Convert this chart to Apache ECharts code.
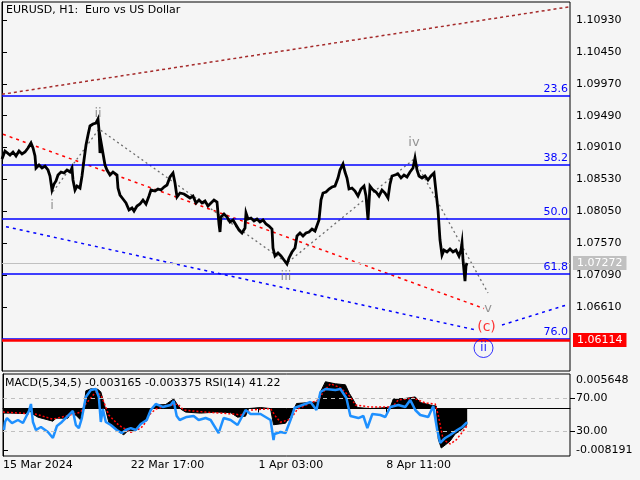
<!DOCTYPE html>
<html><head><meta charset="utf-8">
<script src="https://cdn.jsdelivr.net/npm/echarts@6/dist/echarts.min.js"></script>
<style>html,body{margin:0;padding:0;background:#f5f5f5;}#c{width:640px;height:480px;}</style>
</head><body><div id="c"></div>
<script>
const FONT = 'DejaVu Sans';
const chartTitle = 'EURUSD, H1:  Euro vs US Dollar';
const subTitle = 'MACD(5,34,5) -0.003165 -0.003375 RSI(14) 41.22';
const priceTicks = [1.06610,1.07090,1.07570,1.08050,1.08530,1.09010,1.09490,1.09970,1.10450,1.10930];
const timeTickBars = [0,128,256,384];
const timeTickLabels = ['15 Mar 2024','22 Mar 17:00','1 Apr 03:00','8 Apr 11:00'];

const priceBars = [0,3,5,8,11,14,17,20,23,26,29,31,33,34,37,40,43,46,48,50,52,54,56,59,62,65,68,70,71,73,75,78,80,82,84,86,88,91,94,96,97,98,99,101,103,105,108,111,113,115,116,118,121,124,127,130,132,135,138,141,144,147,149,153,156,159,162,165,168,171,173,175,178,182,185,188,191,194,197,200,203,206,209,212,215,216,217,218,219,222,225,228,231,234,237,240,243,244,246,249,252,255,258,261,264,267,270,271,273,276,279,282,285,287,290,293,295,298,301,304,307,310,313,315,317,319,321,324,327,330,333,336,338,341,343,345,347,350,353,356,359,362,364,366,368,371,374,377,380,383,386,388,390,393,396,399,402,405,408,411,413,415,417,420,423,426,429,432,434,436,438,440,442,445,448,451,454,457,459,460,461,463,464,465];
const priceClose = [1.08838,1.08958,1.08988,1.08898,1.08943,1.08883,1.08958,1.08913,1.08943,1.09003,1.09079,1.09003,1.08883,1.08702,1.08747,1.08702,1.08732,1.08672,1.08582,1.08371,1.08461,1.08507,1.08597,1.08642,1.08627,1.08672,1.08642,1.08702,1.08522,1.08371,1.08431,1.08401,1.08582,1.08823,1.09049,1.09199,1.09335,1.09365,1.09380,1.09440,1.09274,1.08928,1.09094,1.09124,1.08747,1.08672,1.08597,1.08642,1.08657,1.08597,1.08401,1.08296,1.08236,1.08176,1.08070,1.08100,1.08055,1.08130,1.08160,1.08221,1.08160,1.08281,1.08371,1.08356,1.08386,1.08371,1.08416,1.08446,1.08567,1.08627,1.08477,1.08266,1.08326,1.08311,1.08281,1.08251,1.08281,1.08176,1.08221,1.08176,1.08206,1.08130,1.08176,1.08221,1.08191,1.08025,1.07859,1.07739,1.07965,1.08010,1.07965,1.07890,1.07920,1.07844,1.07769,1.07724,1.07799,1.08025,1.07935,1.07950,1.07905,1.07935,1.07890,1.07920,1.07859,1.07829,1.07784,1.07498,1.07378,1.07423,1.07378,1.07318,1.07257,1.07348,1.07438,1.07498,1.07679,1.07724,1.07679,1.07724,1.07739,1.07784,1.07754,1.07724,1.07920,1.08221,1.08326,1.08341,1.08386,1.08416,1.08431,1.08552,1.08672,1.08763,1.08642,1.08552,1.08386,1.08401,1.08356,1.08281,1.08386,1.08431,1.08281,1.07920,1.08431,1.08371,1.08341,1.08281,1.08371,1.08326,1.08251,1.08461,1.08582,1.08597,1.08612,1.08552,1.08597,1.08567,1.08642,1.08702,1.08853,1.08672,1.08582,1.08552,1.08582,1.08522,1.08582,1.08627,1.08642,1.08070,1.07619,1.07393,1.07468,1.07438,1.07483,1.07438,1.07468,1.07378,1.07468,1.07573,1.07318,1.07001,1.07227,1.07272];

const fibLevels = [1.09786,1.08758,1.07945,1.07117,1.06139];
const fibLabels = ['23.6','38.2','50.0','61.8','76.0'];
const currentPrice = 1.07272;
const targetPrice = 1.06114;

const upperChannelBars = [0,568];
const upperChannelPrices = [1.09812,1.11130];
const redTrendBars = [1,482];
const redTrendPrices = [1.09210,1.06588];
const blueTrendBarsA = [4,474];
const blueTrendPricesA = [1.07819,1.06264];
const blueTrendBarsB = [500,566];
const blueTrendPricesB = [1.06339,1.06648];
const wavePathBars = [51,97,285,412,486];
const wavePathPrices = [1.08346,1.09289,1.07272,1.08838,1.06821];

const waveText = ['i','ii','iii','iv','v'];
const waveBars = [50,96,284,412,486];
const wavePrices = [1.08130,1.09515,1.07062,1.09079,1.06580];
const cLabelBar = 484.5, cLabelPrice = 1.06302;
const circleBar = 481.5, circlePrice = 1.05993;

const macdBars = [0,8,23,26,28,30,35,50,53,65,68,73,78,81,83,88,95,98,100,103,106,113,121,125,133,138,145,149,153,163,171,175,178,183,198,213,228,235,243,246,258,268,271,283,290,294,308,316,318,323,333,343,347,351,355,368,378,388,391,403,413,418,428,434,436,439,443,448,453,458,465];
const macdVals = [-0.0009,-0.0009,-0.0010,-0.0003,-0.0003,-0.0011,-0.0017,-0.0025,-0.0019,-0.0019,-0.0009,-0.0013,-0.0023,0.0000,0.0035,0.0039,0.0038,0.0033,0.0019,-0.0003,-0.0027,-0.0042,-0.0052,-0.0044,-0.0043,-0.0030,-0.0019,0.0000,0.0007,0.0008,0.0019,0.0007,-0.0001,-0.0007,-0.0009,-0.0007,-0.0008,-0.0017,-0.0015,0.0000,0.0002,0.0000,-0.0032,-0.0029,-0.0009,0.0010,0.0012,0.0013,0.0033,0.0053,0.0049,0.0047,0.0030,0.0017,0.0002,0.0000,0.0001,0.0003,0.0019,0.0020,0.0023,0.0012,0.0007,0.0005,-0.0060,-0.0078,-0.0072,-0.0064,-0.0050,-0.0044,-0.003165];
const signalBars = [0,18,33,50,70,78,82,93,98,101,106,116,128,138,143,146,153,163,175,181,203,233,238,248,268,273,278,288,295,308,316,321,328,338,348,353,368,390,396,411,423,433,436,441,448,454,460,465];
const signalVals = [-0.0007,-0.0009,-0.0011,-0.0021,-0.0011,-0.0007,0.0007,0.0033,0.0027,0.0013,-0.0013,-0.0033,-0.0047,-0.0039,-0.0027,-0.0013,-0.0001,0.0005,0.0009,-0.0003,-0.0007,-0.0011,-0.0013,-0.0003,0.0000,-0.0015,-0.0027,-0.0021,-0.0001,0.0011,0.0017,0.0033,0.0049,0.0041,0.0023,0.0007,0.0003,0.0003,0.0017,0.0021,0.0011,0.0009,-0.0013,-0.0062,-0.0070,-0.0062,-0.0047,-0.003375];
const rsiBars = [1,2,4,9,15,20,26,28,30,33,38,45,50,54,59,65,70,73,76,79,83,88,93,96,98,100,103,108,114,119,123,128,133,138,144,148,153,160,168,171,174,177,184,191,196,203,208,216,221,228,235,243,248,258,268,271,272,278,283,288,292,300,308,314,318,323,333,338,344,348,356,361,365,370,378,383,388,396,403,408,413,418,426,431,435,438,443,448,455,460,465];
const rsiVals = [31.7,41.5,46.3,40.2,43.9,40.2,54.9,63.4,41.5,31.7,35.4,29.3,22.0,36.6,41.5,48.8,54.9,37.8,34.1,46.3,72.0,80.5,81.7,72.0,41.5,57.3,41.5,37.8,31.7,28.0,31.7,34.1,31.7,39.0,43.9,56.1,63.4,59.8,62.2,67.1,48.8,43.9,47.6,48.8,43.9,46.3,43.9,28.0,46.3,43.9,37.8,56.1,51.2,51.2,43.9,19.5,26.8,29.3,28.0,43.9,58.5,62.2,65.9,56.1,78.0,81.7,80.5,81.7,70.7,48.8,46.3,48.8,34.1,51.2,50.0,47.6,59.8,62.2,59.8,68.3,56.1,50.0,47.6,61.0,31.7,15.9,22.0,25.6,31.7,35.4,41.22];
const macdLabels = [0.005648,-0.008191];
const rsiLevels = [70,30];

const pairs = (xs, ys) => xs.map((x, i) => [x, ys[i]]);
const txt = (size, color) => ({fontFamily: FONT, fontSize: size, color: color, fontWeight: 'normal'});
const simpleLine = (name, xs, ys, color, dash, width) => ({
  name, type: 'line', xAxisIndex: 0, yAxisIndex: 0, data: pairs(xs, ys), symbol: 'none', silent: true, z: 3,
  lineStyle: {color, type: dash, width}
});

const chart = echarts.init(document.getElementById('c'), null, {renderer: 'canvas'});
const markLevels = fibLevels.map((v, i) => ({
  yAxis: v, lineStyle: {color: '#0000ff', width: 1.6, type: 'solid'},
  label: {show: true, position: 'insideEndTop', formatter: fibLabels[i], distance: [2, 1], ...txt(11, '#0000ff')}
}));
markLevels.unshift({
  yAxis: currentPrice, lineStyle: {color: '#c0c0c0', width: 1, type: 'solid'},
  label: {show: true, position: 'end', formatter: currentPrice.toFixed(5), distance: 3, backgroundColor: '#c0c0c0', padding: [2, 4, 1, 4], ...txt(11, '#ffffff')}
});
markLevels.push({
  yAxis: targetPrice, lineStyle: {color: '#ff0000', width: 2.5, type: 'solid'},
  label: {show: true, position: 'end', formatter: targetPrice.toFixed(5), distance: 3, backgroundColor: '#ff0000', padding: [2, 4, 1, 4], ...txt(11, '#ffffff')}
});

const option = {
  animation: false,
  backgroundColor: '#f5f5f5',
  title: [
    {text: chartTitle, left: 6, top: 5, padding: 0, textStyle: txt(11, '#000000')},
    {text: subTitle, left: 5, top: 378, padding: 0, textStyle: txt(11, '#000000')}
  ],
  grid: [
    {left: 2, top: 2, width: 568, height: 369, show: true, borderColor: '#000', borderWidth: 1, backgroundColor: 'transparent'},
    {left: 2, top: 374, width: 568, height: 82, show: true, borderColor: '#000', borderWidth: 1, backgroundColor: 'transparent'}
  ],
  xAxis: [
    {type: 'value', gridIndex: 0, min: 0, max: 568, show: false},
    {type: 'value', gridIndex: 1, min: 0, max: 568, splitLine: {show: false},
     axisLine: {show: true, lineStyle: {color: '#000'}},
     axisTick: {show: true, customValues: timeTickBars, length: 4, lineStyle: {color: '#000'}},
     axisLabel: {customValues: timeTickBars, align: 'left', margin: 4, ...txt(11, '#000'),
       formatter: v => { const k = timeTickBars.indexOf(Math.round(v)); return k >= 0 ? timeTickLabels[k] : ''; }}}
  ],
  yAxis: [
    {type: 'value', gridIndex: 0, position: 'right', min: 1.05647, max: 1.11201, splitLine: {show: false},
     axisLine: {show: true, lineStyle: {color: '#000'}},
     axisTick: {show: true, customValues: priceTicks, length: 5, lineStyle: {color: '#000'}},
     axisLabel: {customValues: priceTicks, margin: 6, formatter: v => v.toFixed(5), ...txt(11, '#000')}},
    {type: 'value', gridIndex: 1, position: 'right', min: -0.0093772, max: 0.0068342, splitLine: {show: false},
     axisLine: {show: true, lineStyle: {color: '#000'}},
     axisTick: {show: true, customValues: [macdLabels[1]], length: 5, lineStyle: {color: '#000'}},
     axisLabel: {customValues: macdLabels, margin: 6, formatter: v => v.toFixed(6), ...txt(11, '#000')}},
    {type: 'value', gridIndex: 1, position: 'right', min: 0, max: 100, splitLine: {show: false},
     axisLine: {show: false},
     axisTick: {show: true, customValues: rsiLevels, length: 5, lineStyle: {color: '#000'}},
     axisLabel: {customValues: rsiLevels, margin: 6, formatter: v => v.toFixed(2), ...txt(11, '#000')}}
  ],
  series: [
    {name: 'levels', type: 'line', xAxisIndex: 0, yAxisIndex: 0, data: [], silent: true, z: 2,
     markLine: {symbol: ['none', 'none'], precision: 6, silent: true, animation: false, data: markLevels}},
    simpleLine('upper', upperChannelBars, upperChannelPrices, '#a52a2a', [3, 3], 1.5),
    simpleLine('redTrend', redTrendBars, redTrendPrices, '#ff0000', [3, 4], 1.5),
    simpleLine('blueA', blueTrendBarsA, blueTrendPricesA, '#0000ff', [3, 4], 1.5),
    simpleLine('blueB', blueTrendBarsB, blueTrendPricesB, '#0000ff', [3, 4], 1.5),
    simpleLine('wavePath', wavePathBars, wavePathPrices, '#6e6e6e', [2, 3], 1.3),
    {name: 'price', type: 'line', xAxisIndex: 0, yAxisIndex: 0, data: pairs(priceBars, priceClose), symbol: 'none', silent: true, z: 5,
     lineStyle: {color: '#000000', width: 2.8, join: 'miter'}},
    {name: 'waves', type: 'scatter', xAxisIndex: 0, yAxisIndex: 0, symbolSize: 0, silent: true, z: 6,
     data: waveBars.map((b, i) => ({value: [b, wavePrices[i]], label: {formatter: waveText[i]}})),
     label: {show: true, position: 'inside', ...txt(13, '#7a7a7a')}},
    {name: 'c', type: 'scatter', xAxisIndex: 0, yAxisIndex: 0, symbolSize: 0, silent: true, z: 6,
     data: [[cLabelBar, cLabelPrice]],
     label: {show: true, position: 'inside', formatter: '(c)', ...txt(14, '#ff0000')}},
    {name: 'circ', type: 'scatter', xAxisIndex: 0, yAxisIndex: 0, symbol: 'circle', symbolSize: 19, silent: true, z: 6,
     data: [[circleBar, circlePrice]],
     itemStyle: {color: 'rgba(0,0,0,0)', borderColor: '#0000ff', borderWidth: 1},
     label: {show: true, position: 'inside', formatter: 'ii', ...txt(13, '#0000ff')}},
    {name: 'macd', type: 'line', xAxisIndex: 1, yAxisIndex: 1, data: pairs(macdBars, macdVals), symbol: 'none', silent: true, z: 2,
     lineStyle: {color: '#000', width: 1}, areaStyle: {color: '#000', opacity: 1, origin: 0}},
    {name: 'signal', type: 'line', xAxisIndex: 1, yAxisIndex: 1, data: pairs(signalBars, signalVals), symbol: 'none', silent: true, z: 3,
     lineStyle: {color: '#ff0000', width: 1.5, type: [2, 2]}},
    {name: 'rsi', type: 'line', xAxisIndex: 1, yAxisIndex: 2, data: pairs(rsiBars, rsiVals), symbol: 'none', silent: true, z: 4,
     lineStyle: {color: '#1e90ff', width: 2.5},
     markLine: {symbol: ['none', 'none'], precision: 4, silent: true, label: {show: false},
       lineStyle: {color: '#c0c0c0', type: [4, 4], width: 1},
       data: rsiLevels.map(v => ({yAxis: v}))}}
  ]
};
chart.setOption(option);
</script></body></html>
